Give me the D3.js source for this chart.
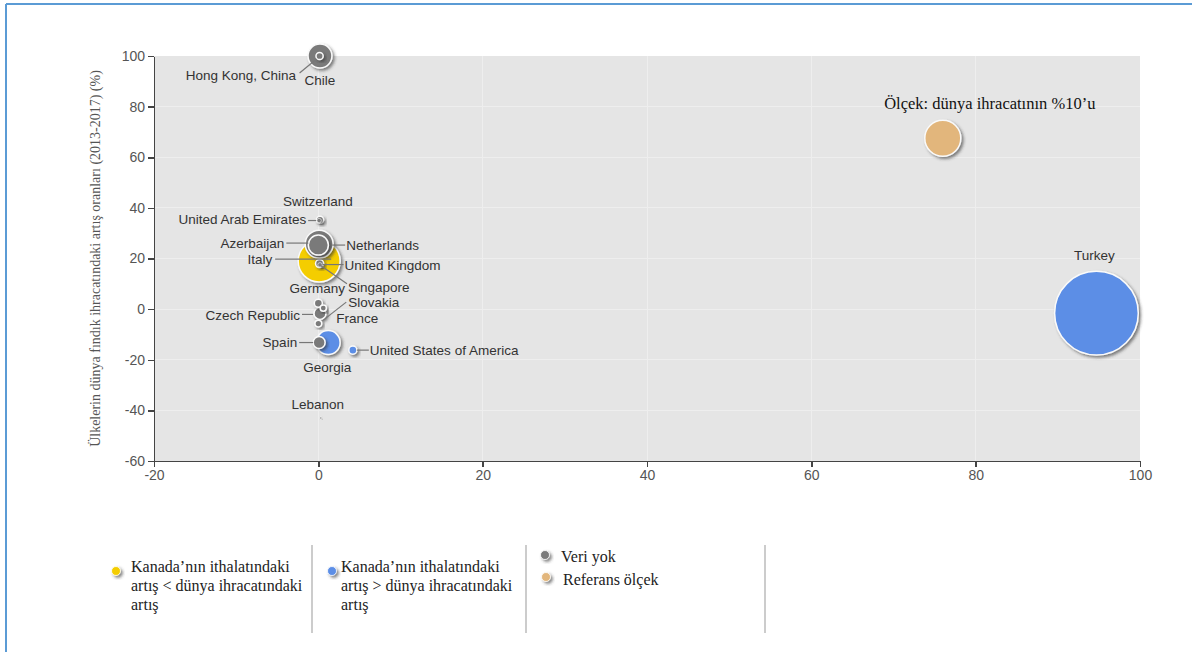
<!DOCTYPE html>
<meta charset="utf-8">
<style>
body { margin: 0; background: #fff; }
.axis { font: 14px Arial, "Liberation Sans", sans-serif; }
.axis path, .axis line { fill: none; stroke: #444; stroke-width: 1.5px; shape-rendering: crispEdges; }
.axis text { fill: #555; }
.grid line { stroke: #eeeeee; stroke-width: 1px; shape-rendering: crispEdges; }
.lbl { font: 13.5px Arial, "Liberation Sans", sans-serif; fill: #333; }
.leader { stroke: #777; stroke-width: 1.2px; }
.serif { font-family: "Times New Roman", "Liberation Serif", serif; }
</style>
<body>
<script src="https://d3js.org/d3.v7.min.js"></script>
<script>
// hazelnut export growth bubbles
var names  = ["Turkey", "Italy", "Netherlands", "Georgia", "Chile", "Azerbaijan", "Ölçek: dünya ihracatının %10’u",
              "Spain", "Czech Republic", "Germany", "United Kingdom", "France", "Slovakia", "Singapore",
              "United States of America", "Switzerland", "United Arab Emirates", "Hong Kong, China", "Lebanon"];
var xVals  = [94.7, 0.1, 0.1, 1.2, 0.2, 0.0, 76.0,
              0.1, 0.2, 0.0, 0.15, 0.0, 0.6, 0.2,
              4.2, 0.2, 0.1, 0.15, 0.3];
var yVals  = [-1.6, 19.0, 25.7, -13.2, 100.0, 25.3, 67.5,
              -13.2, -1.7, 2.3, 18.0, -5.7, 0.4, 17.5,
              -16.2, 35.3, 35.0, 100.0, -43.0];
var shares = [54.0, 13.6, 6.0, 4.4, 4.4, 3.1, 10.0,
              1.1, 1.1, 0.5, 0.5, 0.35, 0.3, 0.15,
              0.5, 0.4, 0.15, 0.4, 0.03];
var groups = ["more", "less", "none", "more", "none", "none", "ref",
              "none", "none", "none", "none", "none", "none", "none",
              "more", "none", "none", "none", "none"];

var xTicks = [-20, 0, 20, 40, 60, 80, 100];
var yTicks = [-60, -40, -20, 0, 20, 40, 60, 80, 100];

var legendKeys  = ["less", "more", "none", "ref"];
var legendTexts = [["Kanada’nın ithalatındaki", "artış < dünya ihracatındaki", "artış"],
                   ["Kanada’nın ithalatındaki", "artış > dünya ihracatındaki", "artış"],
                   ["Veri yok"],
                   ["Referans ölçek"]];

var colors = {less: "#f4cd06", more: "#5b8ee6", none: "#7a7a7a", ref: "#e2b67c"};

// label placement relative to bubble centre: [dx, dy, anchor, leader x1, y1, x2, y2]
var labelPos = {
  "Turkey": [-2, -58, "middle"],
  "Italy": [-47, -2, "end", -44, -2, 12, -2],
  "Netherlands": [27, 1, "start", 13, 1, 26, 1],
  "Azerbaijan": [-34, -2, "end", -32, -2, -10, -2],
  "United Kingdom": [25, 2, "start", 3, 1, 24, 1],
  "Singapore": [28, 22, "start", 1, 1, 27, 19],
  "Germany": [-1, -15, "middle"],
  "Slovakia": [25, -6, "start", 0, 12, 23, -6],
  "Czech Republic": [-20, 1.5, "end", -18, 1, -7, 1],
  "France": [18, -5, "start"],
  "Spain": [-22, 0, "end", -20, 0, -6, 0],
  "Georgia": [-1, 24.5, "middle"],
  "United States of America": [17, 0, "start", 4, 0, 16, 0],
  "Switzerland": [-2, -18, "middle"],
  "United Arab Emirates": [-13, -1, "end", -11, 0, -3, 0],
  "Chile": [0, 24, "middle"],
  "Hong Kong, China": [-23.5, 19, "end", -20, 17, -3, 3],
  "Lebanon": [-3, -14, "middle"],
  "Ölçek: dünya ihracatının %10’u": [47, -35, "middle"]
};

var svg = d3.select("body").append("svg")
    .attr("width", 1192)
    .attr("height", 652);

var defs = svg.append("defs");
var f = defs.append("filter").attr("id", "shadow")
    .attr("x", "-30%").attr("y", "-30%").attr("width", "170%").attr("height", "170%");
f.append("feDropShadow").attr("dx", 2).attr("dy", 2).attr("stdDeviation", 1.5)
    .attr("flood-color", "#333").attr("flood-opacity", 0.6);

// page frame
svg.append("line").attr("x1", 6).attr("x2", 1192).attr("y1", 4).attr("y2", 4)
    .attr("stroke", "#5b9bd5").attr("stroke-width", 2);
svg.append("line").attr("x1", 6).attr("x2", 6).attr("y1", 4).attr("y2", 652)
    .attr("stroke", "#5b9bd5").attr("stroke-width", 2);

var margin = {left: 154, top: 56, right: 52, bottom: 191},
    width = 1192 - margin.left - margin.right,
    height = 652 - margin.top - margin.bottom;

var x = d3.scaleLinear().domain([-20, 100]).range([0, width]);
var y = d3.scaleLinear().domain([-60, 100]).range([height, 0]);
var r = d3.scaleSqrt().domain([0, 10]).range([0, 18]);

var g = svg.append("g").attr("transform", "translate(" + margin.left + "," + margin.top + ")");

g.append("rect").attr("width", width).attr("height", height).attr("fill", "#e5e5e5");

var grid = g.append("g").attr("class", "grid");
grid.selectAll(".gy").data(yTicks.slice(1, -1)).enter().append("line")
    .attr("x1", 0).attr("x2", width)
    .attr("y1", function(d) { return y(d); }).attr("y2", function(d) { return y(d); });
grid.selectAll(".gx").data(xTicks.slice(1, -1)).enter().append("line")
    .attr("y1", 0).attr("y2", height)
    .attr("x1", function(d) { return x(d); }).attr("x2", function(d) { return x(d); });

var plain = function(d) { return String(d); };

g.append("g")
    .attr("class", "axis")
    .attr("transform", "translate(0," + height + ")")
    .call(d3.axisBottom(x).tickValues(xTicks).tickFormat(plain).tickSize(6).tickSizeOuter(0));

g.append("g")
    .attr("class", "axis")
    .call(d3.axisLeft(y).tickValues(yTicks).tickFormat(plain).tickSize(6).tickSizeOuter(0));

g.append("text")
    .attr("class", "serif")
    .attr("transform", "translate(-59," + (height / 2) + ") rotate(-90)")
    .attr("text-anchor", "middle")
    .attr("dy", "0.35em")
    .attr("font-size", 14)
    .attr("fill", "#555")
    .text("Ülkelerin dünya fındık ihracatındaki artış oranları (2013-2017) (%)");

var data = names.map(function(n, i) {
  return {name: n, x: xVals[i], y: yVals[i], share: shares[i], group: groups[i]};
});

var bubbles = g.append("g");
bubbles.selectAll("circle").data(data).enter().append("circle")
    .attr("cx", function(d) { return x(d.x); })
    .attr("cy", function(d) { return y(d.y); })
    .attr("r", function(d) { return Math.max(r(d.share), 1); })
    .attr("fill", function(d) { return colors[d.group]; })
    .attr("stroke", "#fafafa")
    .attr("stroke-width", function(d) { return r(d.share) > 3 ? 1.5 : 0.6; })
    .attr("filter", "url(#shadow)");

var labels = g.append("g");
data.forEach(function(d) {
  var p = labelPos[d.name], cx = x(d.x), cy = y(d.y);
  if (p.length > 3) {
    labels.append("line").attr("class", "leader")
        .attr("x1", cx + p[3]).attr("y1", cy + p[4])
        .attr("x2", cx + p[5]).attr("y2", cy + p[6]);
  }
  var t = labels.append("text")
      .attr("x", cx + p[0])
      .attr("y", cy + p[1])
      .attr("dy", "0.35em")
      .attr("text-anchor", p[2])
      .text(d.name);
  if (d.group === "ref") {
    t.attr("class", "serif").attr("font-size", 16.5).attr("fill", "#111");
  } else {
    t.attr("class", "lbl");
  }
});

// legend
var legend = svg.append("g").attr("class", "serif").attr("font-size", 16).attr("fill", "#222");
var legDot = [[116, 571], [332, 571], [545, 555], [546, 577]];
var legText = [[131, 566], [341, 566], [561, 556], [563, 579]];
legendKeys.forEach(function(k, i) {
  legend.append("circle")
      .attr("cx", legDot[i][0]).attr("cy", legDot[i][1]).attr("r", 4.5)
      .attr("fill", colors[k]).attr("stroke", "#fff").attr("stroke-width", 0.8)
      .attr("filter", "url(#shadow)");
  var t = legend.append("text").attr("x", legText[i][0]).attr("y", legText[i][1]);
  legendTexts[i].forEach(function(line, j) {
    t.append("tspan").attr("x", legText[i][0]).attr("y", legText[i][1] + j * 19)
        .attr("dy", "0.35em").text(line);
  });
});
[312, 526, 765].forEach(function(sx) {
  svg.append("line").attr("x1", sx).attr("x2", sx).attr("y1", 545).attr("y2", 633)
      .attr("stroke", "#999").attr("stroke-width", 1);
});
</script>
</body>
